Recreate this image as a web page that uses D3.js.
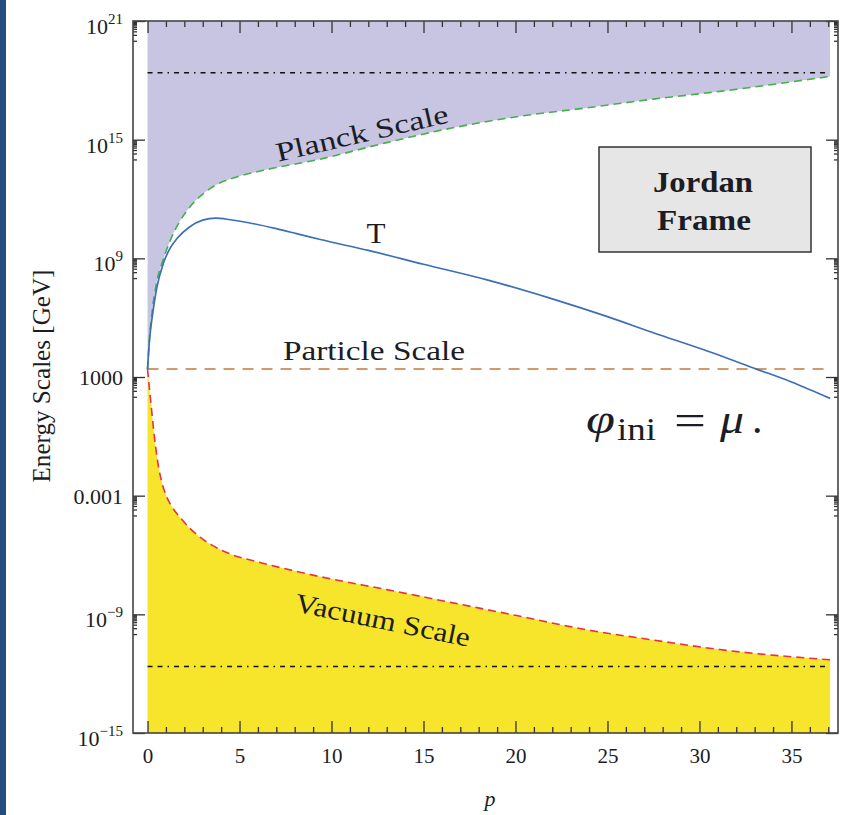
<!DOCTYPE html>
<html>
<head>
<meta charset="utf-8">
<script src="https://cdn.jsdelivr.net/npm/d3@7"></script>
<style>
  body { margin: 0; background: #fff; }
  svg { display: block; }
  text { font-family: "Liberation Serif", "Times New Roman", serif; fill: #1c1c24; }
</style>
</head>
<body>
<div id="graph"></div>
<script>
// values: [p, log10(E / GeV)]
const planckScale = [[0,3.4],[0.1,4.9],[0.25,6.3],[0.5,7.8],[0.86,8.95],[1.3,10.05],[1.77,10.9],[2.3,11.6],
  [3.0,12.25],[3.8,12.75],[4.8,13.1],[6.3,13.45],[9.3,14.0],[13,14.85],[16.6,15.6],[20,16.15],[23.8,16.6],[27.5,17.05],[31.1,17.44],[37.1,18.2]];
const temperature = [[0,3.4],[0.12,5.0],[0.25,6.0],[0.5,7.5],[0.86,8.75],[1.22,9.5],[1.6,10.0],[2.3,10.6],
  [3.0,10.93],[3.7,11.03],[4.5,10.95],[5.5,10.8],[7,10.5],[8.1,10.25],[9.4,9.95],[12,9.4],[15,8.7],[18.5,7.9],
  [22,6.95],[25,6.05],[27.6,5.2],[30,4.45],[33.1,3.4],[35,2.75],[37.1,1.92]];
const vacuumScale = [[0,3.4],[0.15,2.0],[0.3,0.6],[0.45,-0.6],[0.6,-1.55],[0.8,-2.4],[1.04,-3.05],[1.35,-3.6],
  [1.77,-4.1],[2.3,-4.65],[2.85,-5.1],[3.5,-5.5],[4.5,-5.95],[6,-6.35],[7.5,-6.7],[9.3,-7.08],[13,-7.75],
  [16.6,-8.42],[20,-9.05],[23.8,-9.77],[27.5,-10.3],[31.1,-10.78],[37.1,-11.3]];
const particleLog = 3.4;
const planckMassLog = 18.38;
const vacuumEnergyLog = -11.64;
const pRange = [0, 37.1];

const xMajor = [0, 5, 10, 15, 20, 25, 30, 35];
const xMinor = d3.range(0, 38).filter(d => d % 5 !== 0);
const yMajorLog = [21, 15, 9, 3, -3, -9, -15];
const yTickLabels = [["10","21"],["10","15"],["10","9"],["1000",""],["0.001",""],["10","\u22129"],["10","\u221215"]];
const yMinorMult = [1, 2, 3, 4, 5, 6, 7, 8, 9];

const W = 846, H = 815;
const frame = {left: 133, right: 838, top: 21, bottom: 733};

const svg = d3.select("#graph").append("svg").attr("width", W).attr("height", H);
svg.append("rect").attr("width", W).attr("height", H).attr("fill", "#fff");
// blue strip at the left edge
svg.append("rect").attr("x", 0).attr("y", 0).attr("width", 6).attr("height", H).attr("fill", "#224d7c");

let x = d3.scaleLinear().domain([-0.79, 37.53]).range([frame.left, frame.right]);
let y = d3.scaleLog().domain([1e-15, 1e21]).range([frame.bottom, frame.top]);
const E = e => Math.pow(10, e);

svg.append("clipPath").attr("id", "plot").append("rect")
  .attr("x", frame.left).attr("y", frame.top)
  .attr("width", frame.right - frame.left).attr("height", frame.bottom - frame.top);
let g = svg.append("g").attr("clip-path", "url(#plot)");

// shaded regions
g.append("path").datum(planckScale)
  .attr("fill", "#c7c5e2")
  .attr("d", d3.area().curve(d3.curveMonotoneX)
    .x(d => x(d[0])).y0(frame.top).y1(d => y(E(d[1]))));
g.append("path").datum(vacuumScale)
  .attr("fill", "#f6e52a")
  .attr("d", d3.area().curve(d3.curveMonotoneX)
    .x(d => x(d[0])).y0(frame.bottom).y1(d => y(E(d[1]))));

// horizontal reference lines
let hline = (e, color, dash, w) => g.append("line")
  .attr("x1", x(pRange[0])).attr("x2", x(pRange[1]))
  .attr("y1", y(E(e))).attr("y2", y(E(e)))
  .attr("stroke", color).attr("stroke-width", w).attr("stroke-dasharray", dash);
hline(planckMassLog, "#111", "5,5,5,5,1.5,5", 1.4);
hline(vacuumEnergyLog, "#111", "5,5,5,5,1.5,5", 1.4);
hline(particleLog, "#d29a68", "11,8", 2);

let line = d3.line().curve(d3.curveMonotoneX).x(d => x(d[0])).y(d => y(E(d[1])));
g.append("path").datum(planckScale).attr("d", line)
  .attr("fill", "none").attr("stroke", "#45b04a").attr("stroke-width", 1.6).attr("stroke-dasharray", "8,5");
g.append("path").datum(vacuumScale).attr("d", line)
  .attr("fill", "none").attr("stroke", "#e8304a").attr("stroke-width", 1.6).attr("stroke-dasharray", "8,5");
g.append("path").datum(temperature).attr("d", line)
  .attr("fill", "none").attr("stroke", "#3b6fb6").attr("stroke-width", 1.7);

// ticks (inward, mirrored)
let axes = svg.append("g").attr("class", "axes");
let tickStyle = sel => {
  sel.select(".domain").remove();
  sel.selectAll(".tick line").attr("stroke", "#333").attr("stroke-width", 1.3);
};
axes.append("g").attr("transform", `translate(0,${frame.bottom})`)
  .call(d3.axisBottom(x).tickValues(xMajor).tickSize(-12).tickPadding(15).tickFormat(d3.format("d")))
  .call(tickStyle)
  .selectAll("text").attr("font-size", 21).attr("font-family", "Liberation Serif").attr("fill", "#1c1c24");
axes.append("g").attr("transform", `translate(0,${frame.bottom})`)
  .call(d3.axisBottom(x).tickValues(xMinor).tickSize(-6).tickFormat("")).call(tickStyle);
axes.append("g").attr("transform", `translate(0,${frame.top})`)
  .call(d3.axisTop(x).tickValues(xMajor).tickSize(-12).tickFormat("")).call(tickStyle);
axes.append("g").attr("transform", `translate(0,${frame.top})`)
  .call(d3.axisTop(x).tickValues(xMinor).tickSize(-6).tickFormat("")).call(tickStyle);

const yMajorVals = yMajorLog.map(E);
const yMinorVals = [];
yMajorLog.forEach(e => yMinorMult.forEach(k => { if (e - 1 >= -15) yMinorVals.push(k * E(e - 1)); }));
axes.append("g").attr("transform", `translate(${frame.left},0)`)
  .call(d3.axisLeft(y).tickValues(yMajorVals).tickSize(-12).tickFormat("")).call(tickStyle);
axes.append("g").attr("transform", `translate(${frame.left},0)`)
  .call(d3.axisLeft(y).tickValues(yMinorVals).tickSize(-4).tickFormat("")).call(tickStyle);
axes.append("g").attr("transform", `translate(${frame.right},0)`)
  .call(d3.axisRight(y).tickValues(yMajorVals).tickSize(-12).tickFormat("")).call(tickStyle);
axes.append("g").attr("transform", `translate(${frame.right},0)`)
  .call(d3.axisRight(y).tickValues(yMinorVals).tickSize(-4).tickFormat("")).call(tickStyle);

// frame
svg.append("rect").attr("x", frame.left).attr("y", frame.top)
  .attr("width", frame.right - frame.left).attr("height", frame.bottom - frame.top)
  .attr("fill", "none").attr("stroke", "#444").attr("stroke-width", 1.6);

// y tick labels
yMajorLog.forEach((e, i) => {
  const [base, sup] = yTickLabels[i];
  const ty = y(E(e));
  const t = svg.append("text").attr("x", 123).attr("text-anchor", "end").attr("font-size", 22);
  if (sup) {
    t.attr("y", ty + 13);
    t.append("tspan").text(base);
    t.append("tspan").attr("font-size", 15).attr("dy", -10).text(sup);
  } else {
    t.attr("y", ty + 8).text(base);
  }
});

// axis titles
svg.append("text").attr("transform", "translate(50,376) scale(1.15,1) rotate(-90)")
  .attr("text-anchor", "middle").attr("font-size", 22).attr("textLength", 213)
  .attr("lengthAdjust", "spacingAndGlyphs").text("Energy Scales  [GeV]");
svg.append("text").attr("x", 490).attr("y", 806).attr("text-anchor", "middle")
  .attr("font-size", 22).attr("font-style", "italic").text("p");

// annotations
svg.append("text").attr("transform", "translate(364,142) rotate(-13)")
  .attr("text-anchor", "middle").attr("font-size", 27).attr("textLength", 176)
  .attr("lengthAdjust", "spacingAndGlyphs").text("Planck Scale");
svg.append("text").attr("transform", "translate(381,629) rotate(11.5)")
  .attr("text-anchor", "middle").attr("font-size", 27).attr("textLength", 178)
  .attr("lengthAdjust", "spacingAndGlyphs").text("Vacuum Scale");
svg.append("text").attr("x", 374).attr("y", 360).attr("text-anchor", "middle")
  .attr("font-size", 28).attr("textLength", 182)
  .attr("lengthAdjust", "spacingAndGlyphs").text("Particle Scale");
svg.append("text").attr("x", 376).attr("y", 243).attr("text-anchor", "middle")
  .attr("font-size", 30).attr("textLength", 19)
  .attr("lengthAdjust", "spacingAndGlyphs").text("T");

// Jordan Frame box
svg.append("rect").attr("x", 599).attr("y", 147).attr("width", 212).attr("height", 105)
  .attr("fill", "#e6e6e6").attr("stroke", "#333").attr("stroke-width", 1.5);
svg.append("text").attr("x", 703).attr("y", 192).attr("text-anchor", "middle")
  .attr("font-size", 29).attr("font-weight", "bold").attr("textLength", 100)
  .attr("lengthAdjust", "spacingAndGlyphs").text("Jordan");
svg.append("text").attr("x", 704).attr("y", 230).attr("text-anchor", "middle")
  .attr("font-size", 29).attr("font-weight", "bold").attr("textLength", 94)
  .attr("lengthAdjust", "spacingAndGlyphs").text("Frame");

// phi_ini = mu.
svg.append("text").attr("x", 586).attr("y", 433).attr("font-size", 42).attr("font-style", "italic")
  .attr("textLength", 29).attr("lengthAdjust", "spacingAndGlyphs").text("\u03C6");
svg.append("text").attr("x", 617).attr("y", 440).attr("font-size", 31)
  .attr("textLength", 39).attr("lengthAdjust", "spacingAndGlyphs").text("ini");
svg.append("text").attr("x", 674).attr("y", 435).attr("font-size", 44)
  .attr("textLength", 32).attr("lengthAdjust", "spacingAndGlyphs").text("=");
svg.append("text").attr("x", 720).attr("y", 433).attr("font-size", 42).attr("font-style", "italic")
  .attr("textLength", 24).attr("lengthAdjust", "spacingAndGlyphs").text("\u03BC");
svg.append("text").attr("x", 752).attr("y", 433).attr("font-size", 42).text(".");
</script>
</body>
</html>
